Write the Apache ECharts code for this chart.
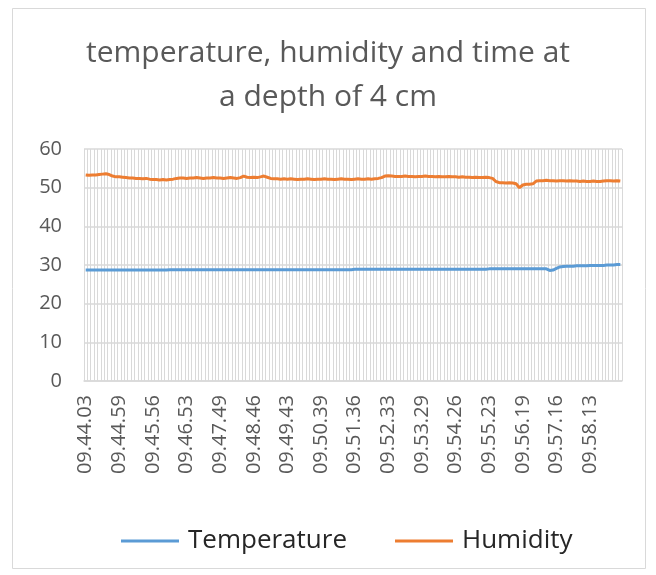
<!DOCTYPE html>
<html>
<head>
<meta charset="utf-8">
<script src="https://cdn.jsdelivr.net/npm/echarts@6/dist/echarts.min.js"></script>
<style>
  html, body { margin: 0; padding: 0; background: #fff; }
  #chart { width: 656px; height: 575px; }
</style>
</head>
<body>
<div id="chart"></div>
<script>
// time stamps, one every ~5.7 s
var times = [
  '09.44.03','09.44.08','09.44.14','09.44.20','09.44.25','09.44.31','09.44.37','09.44.42','09.44.48','09.44.54',
  '09.44.59','09.45.05','09.45.11','09.45.16','09.45.22','09.45.28','09.45.33','09.45.39','09.45.45','09.45.50',
  '09.45.56','09.46.02','09.46.07','09.46.13','09.46.19','09.46.24','09.46.30','09.46.36','09.46.41','09.46.47',
  '09.46.53','09.46.58','09.47.04','09.47.10','09.47.15','09.47.21','09.47.27','09.47.32','09.47.38','09.47.44',
  '09.47.49','09.47.55','09.48.01','09.48.06','09.48.12','09.48.18','09.48.23','09.48.29','09.48.35','09.48.40',
  '09.48.46','09.48.52','09.48.57','09.49.03','09.49.09','09.49.14','09.49.20','09.49.26','09.49.31','09.49.37',
  '09.49.43','09.49.48','09.49.54','09.50.00','09.50.05','09.50.11','09.50.17','09.50.22','09.50.28','09.50.34',
  '09.50.39','09.50.45','09.50.51','09.50.56','09.51.02','09.51.08','09.51.13','09.51.19','09.51.25','09.51.30',
  '09.51.36','09.51.42','09.51.47','09.51.53','09.51.59','09.52.04','09.52.10','09.52.16','09.52.21','09.52.27',
  '09.52.33','09.52.38','09.52.44','09.52.50','09.52.55','09.53.01','09.53.07','09.53.12','09.53.18','09.53.24',
  '09.53.29','09.53.35','09.53.41','09.53.46','09.53.52','09.53.58','09.54.03','09.54.09','09.54.15','09.54.20',
  '09.54.26','09.54.32','09.54.37','09.54.43','09.54.49','09.54.54','09.55.00','09.55.06','09.55.11','09.55.17',
  '09.55.23','09.55.28','09.55.34','09.55.40','09.55.45','09.55.51','09.55.57','09.56.02','09.56.08','09.56.14',
  '09.56.19','09.56.25','09.56.31','09.56.36','09.56.42','09.56.48','09.56.53','09.56.59','09.57.05','09.57.10',
  '09.57.16','09.57.22','09.57.27','09.57.33','09.57.39','09.57.44','09.57.50','09.57.56','09.58.01','09.58.07',
  '09.58.13','09.58.18','09.58.24','09.58.30','09.58.35','09.58.41','09.58.47','09.58.52','09.58.58','09.59.04'
];

var temperature = [
  28.7,28.7,28.7,28.7,28.7,28.7,28.7,28.7,28.7,28.7,
  28.7,28.7,28.7,28.7,28.7,28.7,28.7,28.7,28.7,28.7,
  28.7,28.7,28.7,28.7,28.7,28.8,28.8,28.8,28.8,28.8,
  28.8,28.8,28.8,28.8,28.8,28.8,28.8,28.8,28.8,28.8,
  28.8,28.8,28.8,28.8,28.8,28.8,28.8,28.8,28.8,28.8,
  28.8,28.8,28.8,28.8,28.8,28.8,28.8,28.8,28.8,28.8,
  28.8,28.8,28.8,28.8,28.8,28.8,28.8,28.8,28.8,28.8,
  28.8,28.8,28.8,28.8,28.8,28.8,28.8,28.8,28.8,28.8,
  28.9,28.9,28.9,28.9,28.9,28.9,28.9,28.9,28.9,28.9,
  28.9,28.9,28.9,28.9,28.9,28.9,28.9,28.9,28.9,28.9,
  28.9,28.9,28.9,28.9,28.9,28.9,28.9,28.9,28.9,28.9,
  28.9,28.9,28.9,28.9,28.9,28.9,28.9,28.9,28.9,28.9,
  29.0,29.0,29.0,29.0,29.0,29.0,29.0,29.0,29.0,29.0,
  29.0,29.0,29.0,29.0,29.0,29.0,29.0,29.0,28.6,28.7,
  29.1,29.5,29.6,29.7,29.7,29.7,29.8,29.8,29.8,29.8,
  29.9,29.9,29.9,29.9,29.9,30.0,30.0,30.0,30.1,30.1
];

var humidity = [
  53.3,53.2,53.3,53.3,53.4,53.5,53.6,53.4,53.0,52.8,
  52.8,52.7,52.6,52.5,52.5,52.4,52.4,52.3,52.4,52.2,
  52.1,52.1,52.0,52.1,52.0,52.1,52.2,52.4,52.5,52.5,
  52.4,52.5,52.5,52.6,52.5,52.4,52.5,52.5,52.6,52.5,
  52.5,52.4,52.5,52.6,52.5,52.4,52.6,53.0,52.7,52.6,
  52.7,52.6,52.8,53.0,52.7,52.4,52.3,52.3,52.2,52.3,
  52.2,52.3,52.2,52.1,52.2,52.2,52.3,52.2,52.1,52.2,
  52.2,52.3,52.2,52.2,52.1,52.2,52.3,52.2,52.2,52.1,
  52.2,52.3,52.2,52.2,52.3,52.2,52.3,52.4,52.6,53.0,
  53.1,53.0,52.9,52.9,52.9,53.0,52.9,52.9,52.8,52.9,
  52.9,53.0,52.9,52.9,52.8,52.9,52.8,52.8,52.9,52.8,
  52.8,52.7,52.8,52.7,52.7,52.6,52.7,52.6,52.6,52.7,
  52.6,52.4,51.6,51.3,51.3,51.2,51.3,51.2,51.0,50.0,
  50.7,50.9,50.9,51.0,51.7,51.8,51.8,51.9,51.8,51.8,
  51.7,51.8,51.8,51.7,51.8,51.7,51.7,51.6,51.7,51.6,
  51.6,51.7,51.6,51.6,51.7,51.8,51.8,51.7,51.8,51.7
];

var seriesNames = ['Temperature', 'Humidity'];
var seriesColors = ['#5B9BD5', '#ED7D31'];

var font = '"Open Sans", "Noto Sans", sans-serif';
var grey = '#595959';

var chart = echarts.init(document.getElementById('chart'));
chart.setOption({
  animation: false,
  backgroundColor: '#fff',
  title: {
    text: 'temperature, humidity and time at\na depth of 4 cm',
    left: 'center',
    top: 26,
    textStyle: {
      fontFamily: font,
      fontSize: 30,
      fontWeight: 'normal',
      color: grey,
      lineHeight: 44
    }
  },
  legend: {
    bottom: 16,
    left: 116,
    itemGap: 48,
    itemWidth: 58,
    itemHeight: 3,
    icon: 'rect',
    data: seriesNames,
    textStyle: { fontFamily: font, fontSize: 26, color: '#262626', padding: [0, 0, 0, 4] }
  },
  grid: { left: 84, right: 34, top: 149, bottom: 194 },
  xAxis: {
    type: 'category',
    boundaryGap: true,
    data: times,
    axisLine: { lineStyle: { color: '#d9d9d9', width: 1.5 } },
    axisTick: { show: false },
    axisLabel: {
      interval: 9,
      rotate: 90,
      margin: 14,
      fontFamily: font,
      fontSize: 20,
      color: grey
    },
    splitLine: { show: true, interval: 0, lineStyle: { color: '#d9d9d9', width: 1 } }
  },
  yAxis: {
    type: 'value',
    min: 0,
    max: 60,
    interval: 10,
    axisLine: { show: false },
    axisTick: { show: false },
    axisLabel: { margin: 22, fontFamily: font, fontSize: 20, color: grey },
    splitLine: { lineStyle: { color: '#d9d9d9', width: 1.5 } }
  },
  series: [
    {
      name: seriesNames[0],
      type: 'line',
      data: temperature,
      showSymbol: false,
      lineStyle: { width: 3, color: seriesColors[0] },
      itemStyle: { color: seriesColors[0] }
    },
    {
      name: seriesNames[1],
      type: 'line',
      data: humidity,
      showSymbol: false,
      lineStyle: { width: 3, color: seriesColors[1] },
      itemStyle: { color: seriesColors[1] }
    }
  ],
  graphic: [{
    type: 'rect',
    shape: { x: 12.5, y: 8.5, width: 633, height: 560 },
    style: { fill: null, stroke: '#d9d9d9', lineWidth: 1 },
    silent: true
  }]
});
</script>
</body>
</html>
